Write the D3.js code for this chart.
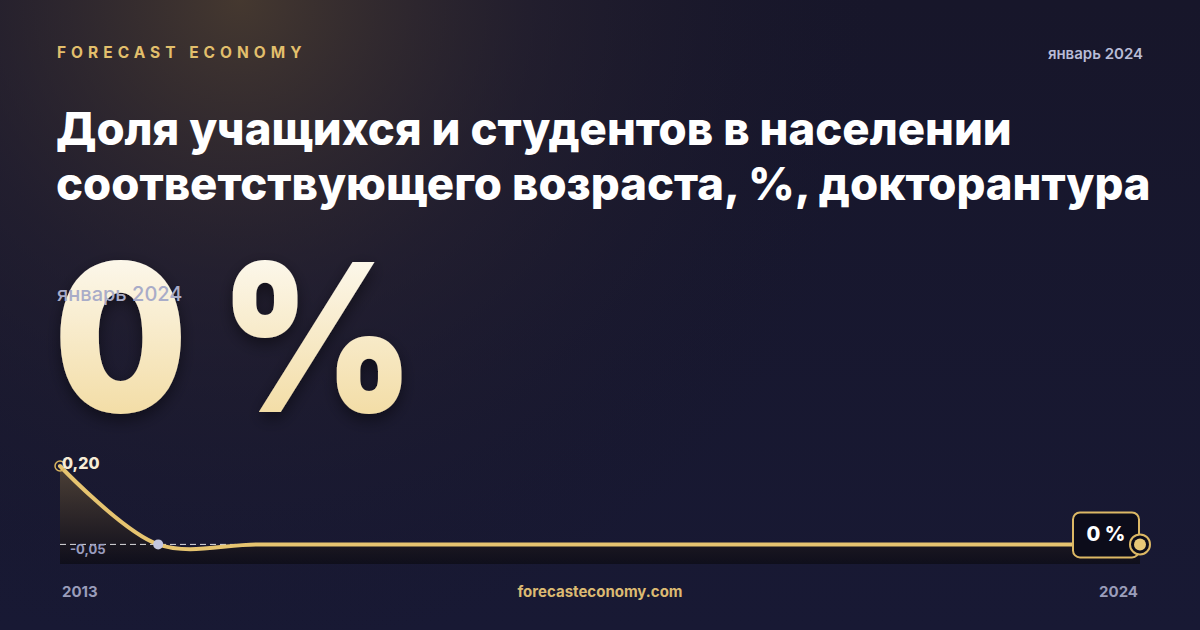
<!DOCTYPE html>
<html>
<head>
<meta charset="utf-8">
<script src="https://cdn.jsdelivr.net/npm/d3@7"></script>
<style>
  html, body { margin: 0; padding: 0; background: #14142a; }
  svg { display: block; }
</style>
</head>
<body>
<div id="chart"></div>
<script>
const years = [2013, 2014, 2015, 2016, 2017, 2018, 2019, 2020, 2021, 2022, 2023, 2024];
const values = [0.20, 0, 0, 0, 0, 0, 0, 0, 0, 0, 0, 0];
const yDomain = [-0.05, 0.20];
const maxLabel = '0,20';
const minLabel = '-0,05';
const latestLabel = '0 %';
const periodLabel = 'январь 2024';
const titleLines = [
  'Доля учащихся и студентов в населении',
  'соответствующего возраста, %, докторантура'
];

const W = 1200, H = 630;
const svg = d3.select('#chart').append('svg').attr('width', W).attr('height', H);
const defs = svg.append('defs');

// background: navy with a warm glow top-left
const bg = defs.append('linearGradient').attr('id', 'bg').attr('x1', 0).attr('y1', 0).attr('x2', 0).attr('y2', 1);
bg.append('stop').attr('offset', '0%').attr('stop-color', '#17162a');
bg.append('stop').attr('offset', '100%').attr('stop-color', '#181934');
const glow = defs.append('radialGradient').attr('id', 'glow')
  .attr('cx', 0.2).attr('cy', 0).attr('r', 0.55).attr('gradientTransform', 'scale(1,1.9)');
glow.append('stop').attr('offset', '0%').attr('stop-color', '#4a3c30').attr('stop-opacity', 0.9);
glow.append('stop').attr('offset', '45%').attr('stop-color', '#2c2530').attr('stop-opacity', 0.5);
glow.append('stop').attr('offset', '100%').attr('stop-color', '#17162a').attr('stop-opacity', 0);
svg.append('rect').attr('width', W).attr('height', H).attr('fill', 'url(#bg)');
svg.append('rect').attr('width', W).attr('height', H).attr('fill', 'url(#glow)');

// header
svg.append('text').attr('x', 57).attr('y', 58)
  .attr('font-family', 'Inter').attr('font-weight', 700).attr('font-size', 15.5)
  .attr('letter-spacing', 5).attr('fill', '#e2bf6c').text('FORECAST ECONOMY');
svg.append('text').attr('x', 1143).attr('y', 59).attr('text-anchor', 'end')
  .attr('font-family', 'Inter').attr('font-weight', 600).attr('font-size', 15)
  .attr('fill', '#b9bcd6').text(periodLabel);

// title
svg.append('g').selectAll('text').data(titleLines).join('text')
  .attr('x', 56).attr('y', (d, i) => 145 + i * 55)
  .attr('font-family', 'Inter').attr('font-weight', 800).attr('font-size', 45.5)
  .attr('fill', '#ffffff').text(d => d);

// big value
const bigGrad = defs.append('linearGradient').attr('id', 'bigGrad').attr('x1', 0).attr('y1', 0).attr('x2', 0).attr('y2', 1);
bigGrad.append('stop').attr('offset', '0%').attr('stop-color', '#ffffff');
bigGrad.append('stop').attr('offset', '100%').attr('stop-color', '#f0d591');
const shadow = defs.append('filter').attr('id', 'shadow').attr('x', '-10%').attr('y', '-10%').attr('width', '120%').attr('height', '130%');
shadow.append('feDropShadow').attr('dx', 0).attr('dy', 6).attr('stdDeviation', 8)
  .attr('flood-color', '#000000').attr('flood-opacity', 0.45);
svg.append('text').attr('x', 0).attr('y', 412)
  .attr('transform', 'translate(54,0) scale(0.91,1)')
  .attr('font-family', 'Inter').attr('font-weight', 900).attr('font-size', 206)
  .attr('letter-spacing', -3)
  .attr('fill', 'url(#bigGrad)').attr('filter', 'url(#shadow)').text(latestLabel);
svg.append('text').attr('x', 57).attr('y', 301)
  .attr('font-family', 'Inter').attr('font-weight', 500).attr('font-size', 20)
  .attr('fill', '#a9acc8').text(periodLabel);

// sparkline
const x = d3.scalePoint().domain(years).range([60, 1140]);
const y = d3.scaleLinear().domain(yDomain).range([564, 466]);
const pts = years.map((yr, i) => [yr, values[i]]);

const areaGrad = defs.append('linearGradient').attr('id', 'areaGrad').attr('x1', 0).attr('y1', 0).attr('x2', 0).attr('y2', 1);
areaGrad.append('stop').attr('offset', '0%').attr('stop-color', '#5a4a38').attr('stop-opacity', 0.8);
areaGrad.append('stop').attr('offset', '100%').attr('stop-color', '#0c0b14').attr('stop-opacity', 0.75);

const area = d3.area().x(d => x(d[0])).y0(y(yDomain[0])).y1(d => y(d[1])).curve(d3.curveCatmullRom);
const line = d3.line().x(d => x(d[0])).y(d => y(d[1])).curve(d3.curveCatmullRom);

svg.append('path').datum(pts).attr('d', area).attr('fill', 'url(#areaGrad)');

const minVal = d3.min(values);
svg.append('line').attr('x1', x(years[0])).attr('x2', 240)
  .attr('y1', y(minVal)).attr('y2', y(minVal))
  .attr('stroke', '#ffffff').attr('stroke-width', 1).attr('stroke-dasharray', '6,4').attr('opacity', 0.85);

svg.append('path').datum(pts).attr('d', line).attr('fill', 'none')
  .attr('stroke', '#e6c470').attr('stroke-width', 4).attr('stroke-linecap', 'round');

svg.append('text').attr('x', 70).attr('y', y(minVal) + 10)
  .attr('font-family', 'Inter').attr('font-weight', 700).attr('font-size', 13)
  .attr('fill', '#9a9dbf').text(minLabel);

// first point
svg.append('circle').attr('cx', x(years[0])).attr('cy', y(values[0])).attr('r', 5)
  .attr('fill', 'none').attr('stroke', '#d9b45e').attr('stroke-width', 1.5);
svg.append('text').attr('x', 62).attr('y', y(values[0]) + 3)
  .attr('font-family', 'Inter').attr('font-weight', 800).attr('font-size', 16)
  .attr('fill', '#f6ecd6').text(maxLabel);

// min point
const minIdx = values.indexOf(minVal);
svg.append('circle').attr('cx', x(years[minIdx])).attr('cy', y(minVal)).attr('r', 5)
  .attr('fill', '#c3c6df');

// last point + badge
const lx = x(years[years.length - 1]), ly = y(values[values.length - 1]);
svg.append('rect').attr('x', lx - 67).attr('y', ly - 32).attr('width', 66).attr('height', 45).attr('rx', 7)
  .attr('fill', '#0c0c1a').attr('stroke', '#dcb865').attr('stroke-width', 2);
svg.append('text').attr('x', lx - 34).attr('y', ly - 3).attr('text-anchor', 'middle')
  .attr('font-family', 'Inter').attr('font-weight', 800).attr('font-size', 20)
  .attr('fill', '#ffffff').text(latestLabel);
svg.append('circle').attr('cx', lx).attr('cy', ly).attr('r', 10)
  .attr('fill', '#0c0c1a').attr('stroke', '#dcb865').attr('stroke-width', 2);
svg.append('circle').attr('cx', lx).attr('cy', ly).attr('r', 6).attr('fill', '#e8c877');

// footer
svg.append('text').attr('x', 62).attr('y', 597)
  .attr('font-family', 'Inter').attr('font-weight', 700).attr('font-size', 15)
  .attr('fill', '#9a9dba').text(years[0]);
svg.append('text').attr('x', 1138).attr('y', 597).attr('text-anchor', 'end')
  .attr('font-family', 'Inter').attr('font-weight', 700).attr('font-size', 15)
  .attr('fill', '#9a9dba').text(years[years.length - 1]);
svg.append('text').attr('x', 600).attr('y', 597).attr('text-anchor', 'middle')
  .attr('font-family', 'Inter').attr('font-weight', 700).attr('font-size', 15)
  .attr('fill', '#dcba72').text('forecasteconomy.com');
</script>
</body>
</html>
